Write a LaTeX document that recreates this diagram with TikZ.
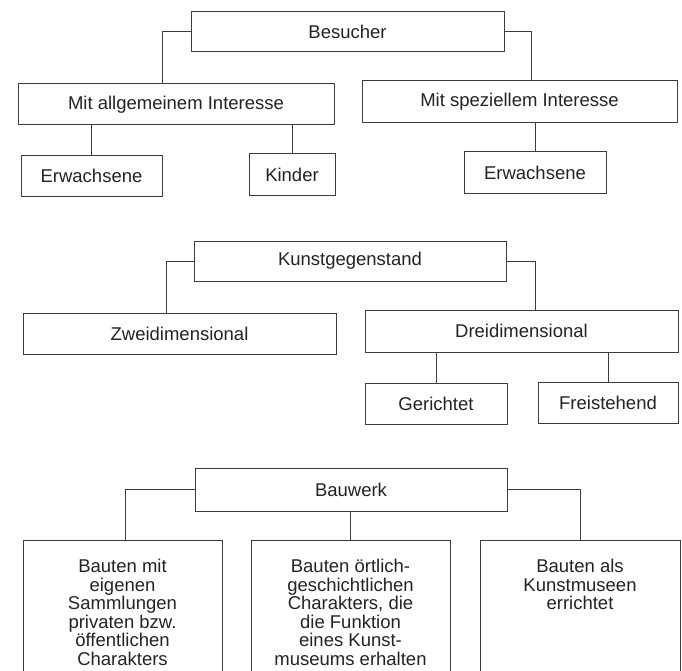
\documentclass[tikz,border=0pt]{standalone}
\usepackage{fontspec}
\setmainfont{Liberation Sans}
\usepackage{xcolor}
\definecolor{ink}{RGB}{35,35,35}
\definecolor{rule}{RGB}{60,60,60}
\usepackage{tikz}
\usetikzlibrary{calc}
\tikzset{
  %% Boxes of the three trees
  orgbox/.style={
    draw=rule, line width=1pt, inner sep=0pt,
    text=ink, font=\fontsize{18.5}{18.6}\selectfont,
  },
  tallbox/.style={
    orgbox, anchor=north, inner xsep=9.5pt, inner ysep=18.5pt,
  },
  %% Connectors
  link/.style={draw=rule, line width=1pt},
}

\begin{document}
\begin{tikzpicture}[x=1pt,y=1pt]
\useasboundingbox (0,0) rectangle (682,-671);
\clip (0,0) rectangle (682,-671);
\fill[white] (0,0) rectangle (682,-671);

%% Besucher
\node[orgbox,minimum width=313pt,minimum height=40pt] (besucher) at (347.5,-32) {Besucher};
\node[orgbox,minimum width=316pt,minimum height=41pt] (mitall) at (176,-104.5) {Mit allgemeinem Interesse};
\node[orgbox,minimum width=315pt,minimum height=42pt] (mitspez) at (519.5,-102) {Mit speziellem Interesse};
\node[orgbox,minimum width=141pt,minimum height=40pt] (erwall) at (91.5,-176) {Erwachsene};
\node[orgbox,minimum width=86pt,minimum height=41pt] (kinder) at (292,-174.5) {Kinder};
\node[orgbox,minimum width=142pt,minimum height=41pt] (erwspez) at (535,-172.5) {Erwachsene};

\draw[link] (besucher.west) -| ([xshift=-14pt]mitall.north);
\draw[link] (besucher.east) -| ([xshift=11.5pt]mitspez.north);
\draw[link] (mitall.south -| erwall.north) -- (erwall.north);
\draw[link] (mitall.south -| kinder.north) -- (kinder.north);
\draw[link] (mitspez.south -| erwspez.north) -- (erwspez.north);

%% Kunstgegenstand
\node[orgbox,minimum width=312pt,minimum height=40pt] (kunst) at (350,-261) {Kunstgegenstand};
\node[orgbox,minimum width=313pt,minimum height=41pt] (zwei) at (179.5,-333.5) {Zweidimensional};
\node[orgbox,minimum width=313pt,minimum height=42pt] (drei) at (521.5,-331) {Dreidimensional};
\node[orgbox,minimum width=142pt,minimum height=41pt] (gericht) at (436,-403.5) {Gerichtet};
\node[orgbox,minimum width=140pt,minimum height=41pt] (frei) at (608,-402.5) {Freistehend};

\draw[link] (kunst.west) -| ([xshift=-13.5pt]zwei.north);
\draw[link] (kunst.east) -| ([xshift=13.5pt]drei.north);
\draw[link] (drei.south -| gericht.north) -- (gericht.north);
\draw[link] (drei.south -| frei.north) -- (frei.north);

%% Bauwerk
\node[orgbox,minimum width=312pt,minimum height=43pt] (bauwerk) at (351,-489.5) {Bauwerk};
\node[tallbox] (eigen) at (122.5,-540) {\parbox[t][150pt][t]{180pt}{\centering
  Bauten mit\\ eigenen\\ Sammlungen\\ privaten bzw.\\ öffentlichen\\ Charakters}};
\node[tallbox] (oertlich) at (350.5,-540) {\parbox[t][150pt][t]{180pt}{\centering
  Bauten örtlich-\\ geschichtlichen\\ Charakters, die\\ die Funktion\\ eines Kunst-\\ museums erhalten}};
\node[tallbox,inner xsep=10pt] (museum) at (580,-540) {\parbox[t][150pt][t]{180pt}{\centering
  Bauten als\\ Kunstmuseen\\ errichtet}};

\draw[link] (bauwerk.west) -| ([xshift=2.5pt]eigen.north);
\draw[link] (bauwerk.south -| oertlich.north) -- (oertlich.north);
\draw[link] (bauwerk.east) -| (museum.north);
\end{tikzpicture}
\end{document}
